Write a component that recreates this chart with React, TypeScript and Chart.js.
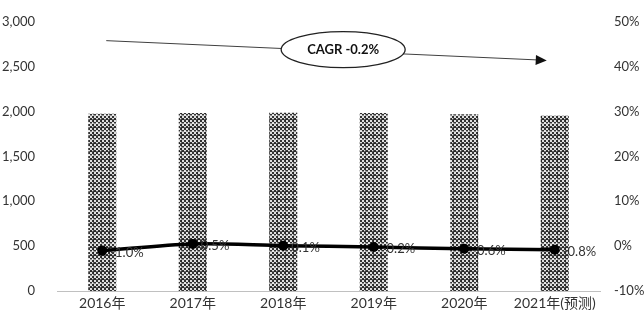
import React, { useEffect, useRef } from "react";
import { Chart, registerables } from "chart.js";

Chart.register(...registerables);

// Annual volume (bars, left axis) and year-on-year growth (line, right axis)
const categories = ["2016年", "2017年", "2018年", "2019年", "2020年", "2021年(预测)"];
const volumes = [1975, 1985, 1987, 1983, 1971, 1955];
const growthPct = [-1.0, 0.5, 0.1, -0.2, -0.6, -0.8];
const growthLabels = ["-1.0%", "0.5%", "0.1%", "-0.2%", "-0.6%", "-0.8%"];
const cagrText = "CAGR -0.2%";

const FONT = "Lato, 'Noto Sans CJK SC', sans-serif";

// Dark woven check used to fill the bars
function makeBarPattern(ctx: CanvasRenderingContext2D): CanvasPattern | string {
  const tile = document.createElement("canvas");
  tile.width = 8;
  tile.height = 8;
  const t = tile.getContext("2d");
  if (!t) return "#777";
  t.fillStyle = "#e0e0e0";
  t.fillRect(0, 0, 8, 8);
  t.fillStyle = "#333";
  for (let y = 0; y < 8; y += 2) {
    for (let x = 0; x < 8; x += 2) {
      if (((x + y) / 2) % 2 === 0) t.fillRect(x, y, 2, 2);
    }
  }
  t.fillStyle = "rgba(30,30,30,0.6)";
  t.fillRect(0, 7, 8, 1);
  t.fillRect(5, 0, 1, 8);
  t.fillStyle = "rgba(255,255,255,0.45)";
  t.fillRect(0, 3, 8, 1);
  return ctx.createPattern(tile, "repeat") || "#777";
}

const annotationPlugin = {
  id: "cagrArrow",
  afterDraw(chart: any) {
    const { ctx, chartArea, scales } = chart;
    const xs = scales.x;
    const ys = scales.y;
    const x0 = xs.getPixelForValue(0) + 4;
    const x1 = xs.getPixelForValue(5) - 8;
    const y0 = ys.getPixelForValue(2790);
    const y1 = ys.getPixelForValue(2570);
    ctx.save();
    // trend arrow
    ctx.strokeStyle = "#404040";
    ctx.lineWidth = 1;
    ctx.beginPath();
    ctx.moveTo(x0, y0);
    ctx.lineTo(x1 - 8, y1 - 0.4);
    ctx.stroke();
    const ang = Math.atan2(y1 - y0, x1 - x0);
    ctx.fillStyle = "#111";
    ctx.beginPath();
    ctx.moveTo(x1, y1);
    ctx.lineTo(x1 - 11 * Math.cos(ang) + 5 * Math.sin(ang), y1 - 11 * Math.sin(ang) - 5 * Math.cos(ang));
    ctx.lineTo(x1 - 11 * Math.cos(ang) - 5 * Math.sin(ang), y1 - 11 * Math.sin(ang) + 5 * Math.cos(ang));
    ctx.closePath();
    ctx.fill();
    // CAGR bubble
    const w = chartArea.right - chartArea.left;
    const cx = chartArea.left + w * 0.527;
    const cy = ys.getPixelForValue(2690);
    ctx.beginPath();
    ctx.ellipse(cx, cy, 62, 18, 0, 0, Math.PI * 2);
    ctx.fillStyle = "#ffffff";
    ctx.fill();
    ctx.lineWidth = 1.3;
    ctx.strokeStyle = "#222";
    ctx.stroke();
    ctx.fillStyle = "#111";
    ctx.font = `bold 13px ${FONT}`;
    ctx.textAlign = "center";
    ctx.textBaseline = "middle";
    ctx.fillText(cagrText, cx, cy);
    ctx.restore();
  },
};

const lineLabelPlugin = {
  id: "growthLabels",
  afterDatasetsDraw(chart: any) {
    const meta = chart.getDatasetMeta(1);
    const { ctx } = chart;
    ctx.save();
    ctx.font = `13px ${FONT}`;
    ctx.fillStyle = "#333";
    ctx.textAlign = "left";
    ctx.textBaseline = "middle";
    meta.data.forEach((pt: any, i: number) => {
      ctx.fillText(growthLabels[i], pt.x + 8, pt.y + 2);
    });
    ctx.restore();
  },
};

export default function App() {
  const ref = useRef<HTMLCanvasElement>(null);

  useEffect(() => {
    document.body.style.margin = "0";
    const canvas = ref.current;
    if (!canvas) return;
    const ctx = canvas.getContext("2d");
    if (!ctx) return;
    const pattern = makeBarPattern(ctx);

    const chart = new Chart(ctx, {
      type: "bar",
      data: {
        labels: categories,
        datasets: [
          {
            type: "bar",
            data: volumes,
            backgroundColor: pattern as any,
            borderWidth: 0,
            categoryPercentage: 1,
            barPercentage: 0.31,
            yAxisID: "y",
            order: 1,
          },
          {
            type: "line",
            data: growthPct.map((v) => v / 100),
            borderColor: "#000",
            borderWidth: 3.5,
            backgroundColor: "#000",
            pointRadius: 5,
            pointBackgroundColor: "#000",
            pointBorderWidth: 0,
            tension: 0.3,
            yAxisID: "y1",
            order: 0,
          } as any,
        ],
      },
      options: {
        animation: false,
        responsive: false,
        layout: { padding: { top: 12, bottom: 0, left: 0, right: 0 } },
        plugins: { legend: { display: false }, tooltip: { enabled: false } },
        scales: {
          x: {
            grid: { display: false, drawTicks: false },
            border: { color: "#c0c0c0", width: 1 },
            ticks: { color: "#333", font: { family: FONT, size: 14 }, padding: 4 },
            afterFit: (s: any) => {
              s.height = 31;
            },
          },
          y: {
            position: "left",
            min: 0,
            max: 3000,
            grid: { display: false },
            border: { display: false },
            ticks: {
              stepSize: 500,
              color: "#333",
              padding: 14,
              font: { family: FONT, size: 13 },
              callback: (v: any) => Number(v).toLocaleString("en-US"),
            },
            afterFit: (s: any) => {
              s.width = 57;
            },
          },
          y1: {
            position: "right",
            min: -0.1,
            max: 0.5,
            grid: { display: false },
            border: { display: false },
            ticks: {
              stepSize: 0.1,
              color: "#333",
              padding: 6,
              font: { family: FONT, size: 13 },
              callback: (v: any) => `${Math.round(Number(v) * 100)}%`,
            },
            afterFit: (s: any) => {
              s.width = 44;
            },
          },
        },
      },
      plugins: [lineLabelPlugin, annotationPlugin],
    });
    return () => chart.destroy();
  }, []);

  return (
    <div style={{ width: 644, height: 322, background: "#fff" }}>
      <canvas ref={ref} width={644} height={322} />
    </div>
  );
}
